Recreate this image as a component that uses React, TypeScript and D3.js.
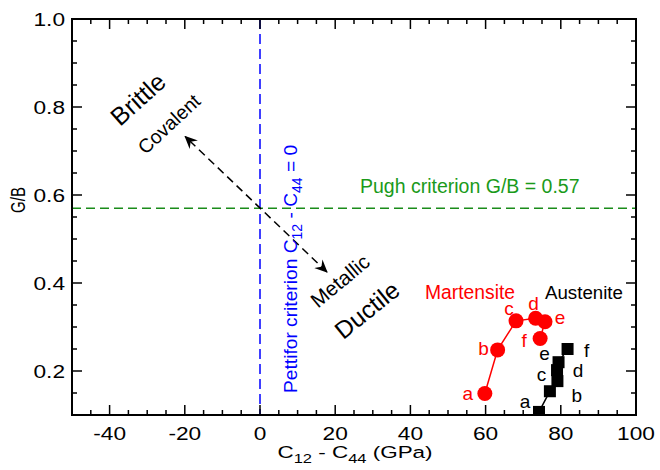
import React from "react";
import * as d3 from "d3";

const labels = ["a", "b", "c", "d", "e", "f"];
const martX = [59.8, 63.2, 68.1, 73.3, 75.8, 74.5];
const martY = [0.149, 0.248, 0.314, 0.32, 0.312, 0.274];
const austX = [74.2, 77.1, 79.1, 79.0, 79.4, 81.8];
const austY = [0.107, 0.154, 0.177, 0.202, 0.22, 0.25];
const xTicks = [-40, -20, 0, 20, 40, 60, 80, 100];
const yTicks = [0.2, 0.4, 0.6, 0.8, 1.0];
const pughValue = 0.57;
const arrowFrom = [17.8, 0.425];
const arrowTo = [-19.9, 0.733];

// letter label offsets in px (dx, dy to baseline)
const martOff = [[-17, 7], [-14, 5], [-7, -5.5], [-2, -8], [15, 2], [-16, 9]];
const austOff = [[-14, -4], [27, 11], [-16, 0], [21, 7], [-14, -2], [19, 8]];

const W = 660, H = 470;
const m = { l: 72, r: 24, t: 19, b: 55 };
const FONT = "'Liberation Sans', Arial, Helvetica, sans-serif";

export default function App() {
  const x = d3.scaleLinear().domain([-50, 100]).range([m.l, W - m.r]);
  const y = d3.scaleLinear().domain([0.1, 1.0]).range([H - m.b, m.t]);
  const x0 = m.l, x1 = W - m.r, y0 = H - m.b, y1 = m.t;
  const xMinor = d3.range(-50, 100.01, 5);
  const yMinor = d3.range(0.1, 1.0001, 0.05).map((v) => +v.toFixed(2));
  const mart = martX.map((v, i) => [x(v), y(martY[i])] as [number, number]);
  const aust = austX.map((v, i) => [x(v), y(austY[i])] as [number, number]);
  const lg = d3.line();

  const ax1 = x(arrowFrom[0]), ay1 = y(arrowFrom[1]);
  const ax2 = x(arrowTo[0]), ay2 = y(arrowTo[1]);

  return (
    <svg width={W} height={H} style={{ position: "absolute", left: 0, top: 0, background: "#fff" }} fontFamily={FONT}>
      <defs>
        <marker id="ah" viewBox="0 0 12 12" refX="11" refY="6" markerWidth="13" markerHeight="13" markerUnits="userSpaceOnUse" orient="auto-start-reverse">
          <path d="M0,0.5 L12,6 L0,11.5 L4,6 Z" fill="#000" />
        </marker>
        <clipPath id="clip"><rect x={x0} y={y1} width={x1 - x0} height={y0 - y1} /></clipPath>
      </defs>
      {/* reference lines */}
      <line x1={x(0)} x2={x(0)} y1={y1} y2={y0} stroke="#0000ff" strokeWidth={1.5} strokeDasharray="10,5" />
      <line x1={x0} x2={x1} y1={y(pughValue)} y2={y(pughValue)} stroke="#1a8c1a" strokeWidth={1.5} strokeDasharray="9,5" />
      <line x1={ax1} y1={ay1} x2={ax2} y2={ay2} stroke="#000" strokeWidth={1.5} strokeDasharray="8,5" markerStart="url(#ah)" markerEnd="url(#ah)" />

      {/* ticks */}
      {xMinor.map((v) => {
        const major = Math.abs(v % 20) < 1e-6;
        const len = major ? 10 : 5;
        return (
          <g key={"xt" + v}>
            <line x1={x(v)} x2={x(v)} y1={y0} y2={y0 - len} stroke="#000" strokeWidth={1.5} />
            <line x1={x(v)} x2={x(v)} y1={y1} y2={y1 + len} stroke="#000" strokeWidth={1.5} />
          </g>
        );
      })}
      {yMinor.map((v) => {
        const r = Math.round(v * 100) % 20;
        const major = r === 0;
        const len = major ? 10 : 5;
        return (
          <g key={"yt" + v}>
            <line x1={x0} x2={x0 + len} y1={y(v)} y2={y(v)} stroke="#000" strokeWidth={1.5} />
            <line x1={x1} x2={x1 - len} y1={y(v)} y2={y(v)} stroke="#000" strokeWidth={1.5} />
          </g>
        );
      })}
      <rect x={x0} y={y1} width={x1 - x0} height={y0 - y1} fill="none" stroke="#000" strokeWidth={2} />

      {xTicks.map((v) => (
        <text key={"xl" + v} transform={`translate(${x(v)},${y0 + 25}) scale(1.22,1)`} fontSize={18.6} textAnchor="middle">{v}</text>
      ))}
      {yTicks.map((v) => (
        <text key={"yl" + v} transform={`translate(${x0 - 7},${y(v) + 6.7}) scale(1.22,1)`} fontSize={18.6} textAnchor="end">{v.toFixed(1)}</text>
      ))}

      {/* axis titles */}
      <text transform="translate(355,458) scale(1.32,1)" fontSize={17} textAnchor="middle">
        C<tspan fontSize={12.5} dy={5}>12</tspan><tspan dy={-5}> - C</tspan><tspan fontSize={12.5} dy={5}>44</tspan><tspan dy={-5}> (GPa)</tspan>
      </text>
      <text transform="translate(25,200) scale(1.3,1) rotate(-90)" fontSize={15} textAnchor="middle">G/B</text>

      {/* annotations */}
      <text x={360} y={193} fontSize={19.5} fill="#1a9a1a">Pugh criterion G/B = 0.57</text>
      <text transform="translate(297,393) rotate(-90)" fontSize={19.2} fill="#0000ff">
        Pettifor criterion C<tspan fontSize={14} dy={5}>12</tspan><tspan dy={-5}> - C</tspan><tspan fontSize={14} dy={5}>44</tspan><tspan dy={-5}> = 0</tspan>
      </text>
      <text transform="translate(138,99) rotate(-42)" fontSize={25} textAnchor="middle" dy="0.35em">Brittle</text>
      <text transform="translate(169,124) rotate(-43)" fontSize={19.5} textAnchor="middle" dy="0.35em">Covalent</text>
      <text transform="translate(340,281) rotate(-40)" fontSize={20.5} textAnchor="middle" dy="0.35em">Metallic</text>
      <text transform="translate(367,310) rotate(-39)" fontSize={24.5} textAnchor="middle" dy="0.35em">Ductile</text>

      <g clipPath="url(#clip)">
        <path d={lg(mart) || ""} fill="none" stroke="#ff0000" strokeWidth={1.5} />
        <path d={lg(aust) || ""} fill="none" stroke="#000" strokeWidth={1.5} />
        {mart.map((p, i) => (
          <circle key={"mc" + i} cx={p[0]} cy={p[1]} r={7.5} fill="#ff0000" />
        ))}
        {aust.map((p, i) => (
          <rect key={"as" + i} x={p[0] - 6} y={p[1] - 6} width={12} height={12} fill="#000" />
        ))}
      </g>
      {mart.map((p, i) => (
        <text key={"ml" + i} x={p[0] + martOff[i][0]} y={p[1] + martOff[i][1]} fontSize={19} fill="#ff0000" textAnchor="middle">{labels[i]}</text>
      ))}
      {aust.map((p, i) => (
        <text key={"al" + i} x={p[0] + austOff[i][0]} y={p[1] + austOff[i][1]} fontSize={19} fill="#000" textAnchor="middle">{labels[i]}</text>
      ))}
      <text x={425} y={299} fontSize={19.3} fill="#ff0000">Martensite</text>
      <text x={545} y={299} fontSize={18.7} fill="#000">Austenite</text>
    </svg>
  );
}
